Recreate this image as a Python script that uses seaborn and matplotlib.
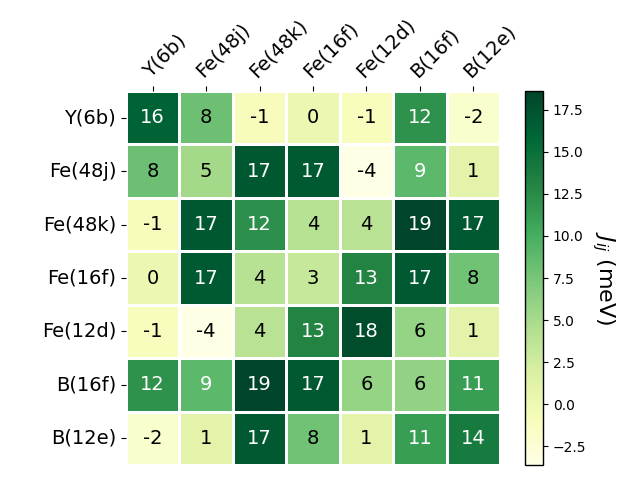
import matplotlib
matplotlib.use("Agg")
import matplotlib.pyplot as plt
import matplotlib.colors as mcolors
import seaborn as sns
import numpy as np
import pandas as pd

labels = ["Y(6b)", "Fe(48j)", "Fe(48k)", "Fe(16f)", "Fe(12d)", "B(16f)", "B(12e)"]

row_y6b  = [16.2,  8.1, -1.0,  0.2, -1.1, 12.1, -2.0]
row_fe48j = [8.1,  5.2, 17.1, 16.9, -3.63, 8.9, 1.0]
row_fe48k = [-1.0, 17.1, 12.2, 4.1,  4.0, 18.63, 17.0]
row_fe16f = [0.2, 16.9,  4.1,  3.2, 13.1, 17.0,  7.9]
row_fe12d = [-1.1, -3.63, 4.0, 13.1, 18.0, 6.0,  1.0]
row_b16f  = [12.1,  8.9, 18.63, 17.0, 6.0,  6.1, 11.2]
row_b12e  = [-2.0,  1.0, 17.0,  7.9,  1.0, 11.2, 14.0]

data = pd.DataFrame([row_y6b, row_fe48j, row_fe48k, row_fe16f,
                     row_fe12d, row_b16f, row_b12e],
                    index=labels, columns=labels)

fig = plt.figure(figsize=(6.4, 4.8), dpi=100)
ax = fig.add_axes([126/640, 15/480, 374/640, 374/480])
cax = fig.add_axes([525/640, 15/480, 18/640, 374/480])

sns.heatmap(data, ax=ax, cbar_ax=cax, cmap="YlGn", annot=True, fmt=".0f",
            annot_kws={"fontsize": 14}, linewidths=2, linecolor="white")

for t in ax.texts:
    if mcolors.to_rgb(t.get_color())[0] < 0.5:
        t.set_color("black")

ax.xaxis.tick_top()
ax.set_xticklabels(labels, rotation=45, ha="left", rotation_mode="anchor", fontsize=14)
ax.set_yticklabels(labels, rotation=0, fontsize=14)
ax.set_xlabel("")
ax.set_ylabel("")

cb = ax.collections[0].colorbar
cb.ax.tick_params(labelsize=10)
cb.outline.set_visible(True)
cb.outline.set_linewidth(1)
cb.set_label("$J_{ij}$ (meV)", rotation=270, fontsize=16, labelpad=22)

fig.savefig("out.png", dpi=100)
